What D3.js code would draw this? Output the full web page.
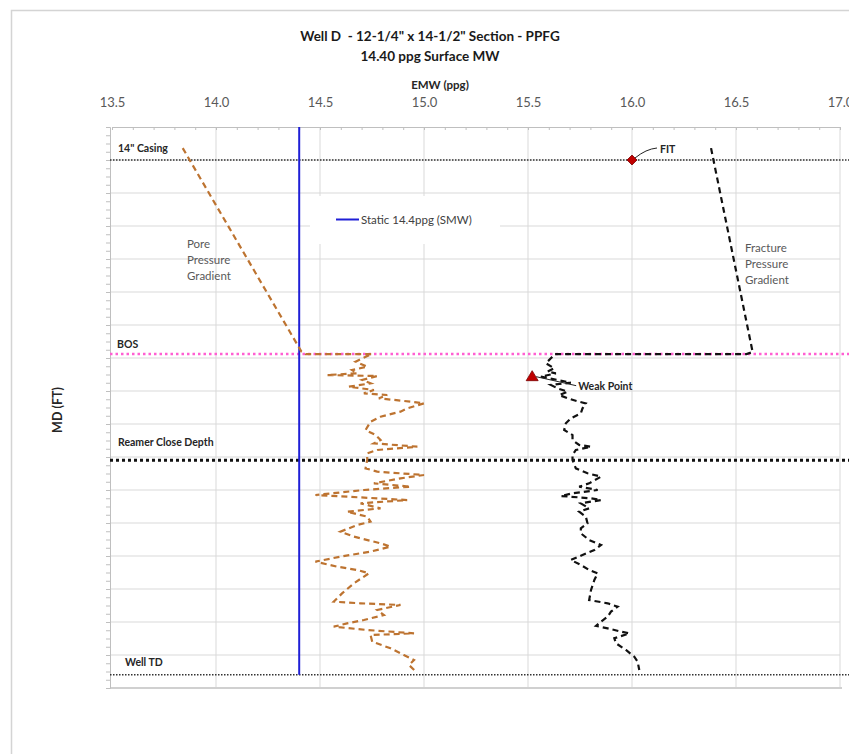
<!DOCTYPE html>
<html>
<head>
<meta charset="utf-8">
<script src="https://cdn.jsdelivr.net/npm/d3@7"></script>
<style>
  body { margin: 0; background: #fff; }
  svg { display: block; font-family: Lato, "Open Sans", sans-serif; }
  text { white-space: pre; }
</style>
</head>
<body>
<div id="chart"></div>
<script>
// EMW ticks (ppg)
var xTicks = [13.5, 14.0, 14.5, 15.0, 15.5, 16.0, 16.5, 17.0];

// depth markers (MD, ft)
var casingDepth = 4500,
    bosDepth = 7440,
    reamerDepth = 9050,
    tdDepth = 12300;

var smw = 14.4;

// pore pressure gradient [ppg, MD]
var porePressure = [
  [13.84, 4320], [14.41, 7400], [14.43, 7440], [14.75, 7440],
  [14.703, 7505], [14.671, 7556], [14.727, 7631], [14.654, 7682], [14.679, 7732],
  [14.534, 7758], [14.775, 7773], [14.703, 7833], [14.743, 7884], [14.638, 7934],
  [14.759, 7985], [14.711, 8035], [14.823, 8061], [14.783, 8111], [14.936, 8162],
  [15.0, 8187], [14.919, 8263], [14.887, 8313], [14.791, 8389], [14.743, 8465],
  [14.719, 8591], [14.767, 8667], [14.791, 8743], [14.759, 8793], [14.968, 8844],
  [14.775, 8894], [14.727, 8945], [14.727, 9045], [14.719, 9172], [14.775, 9222],
  [15.0, 9273], [14.887, 9323], [14.759, 9399], [14.936, 9450], [14.711, 9500],
  [14.478, 9576], [14.630, 9601], [14.919, 9652], [14.807, 9677], [14.695, 9702],
  [14.791, 9778], [14.630, 9828], [14.727, 9904], [14.743, 9980], [14.679, 10030],
  [14.598, 10131], [14.663, 10207], [14.791, 10308], [14.839, 10358], [14.743, 10434],
  [14.598, 10510], [14.478, 10586], [14.582, 10661], [14.679, 10712], [14.735, 10762],
  [14.663, 10914], [14.606, 11066], [14.566, 11192], [14.695, 11217], [14.887, 11242],
  [14.775, 11318], [14.807, 11394], [14.711, 11470], [14.630, 11520], [14.566, 11571],
  [14.727, 11621], [14.952, 11672], [14.743, 11697], [14.751, 11798], [14.839, 11899],
  [14.903, 12000], [14.952, 12076], [14.928, 12152], [14.960, 12250]
];

// fracture pressure gradient / lower trace [ppg, MD]
var fracture = [
  [16.38, 4320], [16.58, 7410], [16.55, 7440], [15.63, 7440],
  [15.610, 7505], [15.586, 7580], [15.626, 7656], [15.594, 7707], [15.634, 7732],
  [15.562, 7783], [15.642, 7833], [15.706, 7874], [15.610, 7909], [15.642, 7960],
  [15.690, 8010], [15.650, 8061], [15.690, 8111], [15.746, 8162], [15.778, 8187],
  [15.762, 8263], [15.754, 8338], [15.706, 8414], [15.682, 8490], [15.674, 8591],
  [15.714, 8667], [15.714, 8743], [15.746, 8818], [15.803, 8844], [15.730, 8894],
  [15.714, 8970], [15.714, 9045], [15.730, 9172], [15.786, 9247], [15.851, 9298],
  [15.794, 9399], [15.746, 9450], [15.835, 9500], [15.714, 9550], [15.658, 9591],
  [15.803, 9626], [15.851, 9652], [15.754, 9702], [15.794, 9778], [15.746, 9828],
  [15.778, 9904], [15.786, 10005], [15.754, 10081], [15.754, 10156], [15.794, 10258],
  [15.851, 10333], [15.819, 10409], [15.762, 10485], [15.706, 10560], [15.754, 10636],
  [15.794, 10712], [15.835, 10762], [15.819, 10863], [15.803, 11015], [15.794, 11167],
  [15.883, 11217], [15.931, 11268], [15.899, 11343], [15.883, 11419], [15.851, 11495],
  [15.827, 11560], [15.883, 11596], [15.947, 11646], [15.987, 11672], [15.915, 11747],
  [15.923, 11823], [15.971, 11924], [16.011, 12025], [16.027, 12101], [16.035, 12227]
];

var fitPoint = [16.0, 4500];
var weakPoint = [15.52, 7783];

var width = 849,
    height = 754;

var x = d3.scaleLinear().domain([13.5, 17.0]).range([112, 840]);
var y = d3.scaleLinear().domain([4000, 12500]).range([127, 688]);

var svg = d3.select("#chart").append("svg")
    .attr("width", width)
    .attr("height", height);

svg.append("rect")
    .attr("x", 11.5).attr("y", 10.5)
    .attr("width", 900).attr("height", 900)
    .attr("fill", "#fff")
    .attr("stroke", "#d4d4d4")
    .attr("stroke-width", 1.5);

// gridlines
var grid = svg.append("g").attr("stroke", "#d9d9d9").attr("stroke-width", 1);
grid.selectAll("line.h")
    .data(d3.range(4500, 12500, 500))
  .enter().append("line")
    .attr("x1", x(13.5) - 2).attr("x2", x(17.0))
    .attr("y1", function(d) { return y(d); })
    .attr("y2", function(d) { return y(d); });
grid.selectAll("line.v")
    .data(xTicks.slice(1))
  .enter().append("line")
    .attr("x1", function(d) { return x(d); })
    .attr("x2", function(d) { return x(d); })
    .attr("y1", y(4000)).attr("y2", y(12500));

// bottom border of plot
svg.append("line")
    .attr("x1", x(13.5) - 2).attr("x2", x(17.0) + 2)
    .attr("y1", y(12500)).attr("y2", y(12500))
    .attr("stroke", "#d0d0d0").attr("stroke-width", 2);

// legend box (white, covers grid)
var legend = svg.append("g");
legend.append("rect")
    .attr("x", 310).attr("y", 196)
    .attr("width", 190).attr("height", 48)
    .attr("fill", "#fff");
legend.append("line")
    .attr("x1", 336).attr("x2", 359)
    .attr("y1", 219.5).attr("y2", 219.5)
    .attr("stroke", "#1f1fd6").attr("stroke-width", 2);
legend.append("text")
    .attr("x", 361).attr("y", 223.5)
    .attr("font-size", 11.5)
    .attr("fill", "#404040")
    .text("Static 14.4ppg (SMW)");

// x axis (top)
svg.append("g")
    .attr("transform", "translate(0," + y(4000) + ")")
    .call(d3.axisBottom(x).tickValues(d3.range(135, 171).map(function(d) { return d / 10; }))
      .tickSize(3).tickFormat(""))
    .call(function(g) {
      g.select(".domain").attr("stroke", "#bfbfbf");
      g.selectAll(".tick line").attr("stroke", "#bfbfbf");
    });

svg.append("g")
    .attr("transform", "translate(0," + (y(4000) - 17) + ")")
    .call(d3.axisTop(x).tickValues(xTicks).tickSize(0).tickFormat(d3.format(".1f")))
    .call(function(g) {
      g.select(".domain").remove();
      g.selectAll("text")
        .attr("font-family", "Lato, 'Open Sans', sans-serif")
        .attr("font-size", 13)
        .attr("fill", "#595959");
    });

// y axis (left, no labels)
svg.append("g")
    .attr("transform", "translate(" + (x(13.5) - 2) + ",0)")
    .call(d3.axisLeft(y).tickValues(d3.range(4000, 12501, 125)).tickSize(4).tickFormat(""))
    .call(function(g) {
      g.select(".domain").attr("stroke", "#bfbfbf");
      g.selectAll(".tick line").attr("stroke", "#bfbfbf");
    });

// depth marker lines
var markers = [
  {depth: casingDepth, label: "14\" Casing", color: "#333", w: 1.5, dash: "1.5,1.5", lx: 118, dy: -8},
  {depth: bosDepth, label: "BOS", color: "#ff5fd2", w: 2.5, dash: "2.5,3", lx: 117, dy: -6},
  {depth: reamerDepth, label: "Reamer Close Depth", color: "#111", w: 3, dash: "3,3", lx: 118, dy: -14},
  {depth: tdDepth, label: "Well TD", color: "#333", w: 1.5, dash: "1.5,1.5", lx: 125, dy: -9}
];

svg.selectAll("line.marker")
    .data(markers)
  .enter().append("line")
    .attr("x1", x(13.5) - 2).attr("x2", x(17.0) + 9)
    .attr("y1", function(d) { return y(d.depth); })
    .attr("y2", function(d) { return y(d.depth); })
    .attr("stroke", function(d) { return d.color; })
    .attr("stroke-width", function(d) { return d.w; })
    .attr("stroke-dasharray", function(d) { return d.dash; });

svg.selectAll("text.marker")
    .data(markers)
  .enter().append("text")
    .attr("x", function(d) { return d.lx; })
    .attr("y", function(d) { return y(d.depth) + d.dy; })
    .attr("font-size", 10.5)
    .attr("font-weight", "bold")
    .attr("fill", "#262626")
    .text(function(d) { return d.label; });

// static mud weight line
svg.append("line")
    .attr("x1", x(smw)).attr("x2", x(smw))
    .attr("y1", y(4000)).attr("y2", y(tdDepth))
    .attr("stroke", "#1f1fd6").attr("stroke-width", 2);

var line = d3.line()
    .x(function(d) { return x(d[0]); })
    .y(function(d) { return y(d[1]); });

svg.append("path")
    .datum(porePressure)
    .attr("d", line)
    .attr("fill", "none")
    .attr("stroke", "#bd7330")
    .attr("stroke-width", 2.2)
    .attr("stroke-dasharray", "6,4");

svg.append("path")
    .datum(fracture)
    .attr("d", line)
    .attr("fill", "none")
    .attr("stroke", "#111")
    .attr("stroke-width", 2.2)
    .attr("stroke-dasharray", "6,4");

// FIT marker
var fx = x(fitPoint[0]), fy = y(fitPoint[1]);
svg.append("path")
    .attr("d", "M" + fx + "," + (fy - 5) + "L" + (fx + 5) + "," + fy + "L" + fx + "," + (fy + 5) + "L" + (fx - 5) + "," + fy + "Z")
    .attr("fill", "#c00000").attr("stroke", "#7a0000").attr("stroke-width", 0.8);
svg.append("path")
    .attr("d", "M" + (fx + 3) + "," + (fy - 2) + "Q" + (fx + 14) + "," + (fy - 11) + " " + (fx + 25) + "," + (fy - 12))
    .attr("fill", "none").attr("stroke", "#222").attr("stroke-width", 1);
svg.append("text")
    .attr("x", fx + 28).attr("y", fy - 7)
    .attr("font-size", 10.5).attr("font-weight", "bold").attr("fill", "#262626")
    .text("FIT");

// weak point marker
var wx = x(weakPoint[0]), wy = y(weakPoint[1]);
svg.append("path")
    .attr("d", "M" + wx + "," + (wy - 6) + "L" + (wx + 6) + "," + (wy + 4) + "L" + (wx - 6) + "," + (wy + 4) + "Z")
    .attr("fill", "#c00000").attr("stroke", "#7a0000").attr("stroke-width", 0.8);
svg.append("line")
    .attr("x1", wx + 4).attr("y1", wy)
    .attr("x2", wx + 44).attr("y2", wy + 9)
    .attr("stroke", "#222").attr("stroke-width", 1);
svg.append("text")
    .attr("x", wx + 46).attr("y", wy + 13)
    .attr("font-size", 10.5).attr("font-weight", "bold").attr("fill", "#262626")
    .text("Weak Point");

// curve annotations
function multiline(lines, x0, y0) {
  var t = svg.append("text")
      .attr("x", x0).attr("y", y0)
      .attr("font-size", 11.5)
      .attr("fill", "#595959");
  lines.forEach(function(s, i) {
    t.append("tspan").attr("x", x0).attr("dy", i ? 16 : 0).text(s);
  });
}
multiline(["Pore", "Pressure", "Gradient"], 187, 248);
multiline(["Fracture", "Pressure", "Gradient"], 745, 252);

// titles
svg.append("text")
    .attr("x", 430).attr("y", 41)
    .attr("text-anchor", "middle")
    .attr("font-size", 13.5).attr("font-weight", "bold").attr("fill", "#1a1a1a")
    .text("Well D  - 12-1/4\" x 14-1/2\" Section - PPFG");
svg.append("text")
    .attr("x", 430).attr("y", 61)
    .attr("text-anchor", "middle")
    .attr("font-size", 13.5).attr("font-weight", "bold").attr("fill", "#1a1a1a")
    .text("14.40 ppg Surface MW");
svg.append("text")
    .attr("x", 440).attr("y", 89)
    .attr("text-anchor", "middle")
    .attr("font-size", 11.5).attr("font-weight", "bold").attr("fill", "#262626")
    .text("EMW (ppg)");
svg.append("text")
    .attr("transform", "translate(62,410)rotate(-90)")
    .attr("text-anchor", "middle")
    .attr("font-size", 12.5).attr("font-weight", "bold").attr("fill", "#262626")
    .text("MD (FT)");
</script>
</body>
</html>
